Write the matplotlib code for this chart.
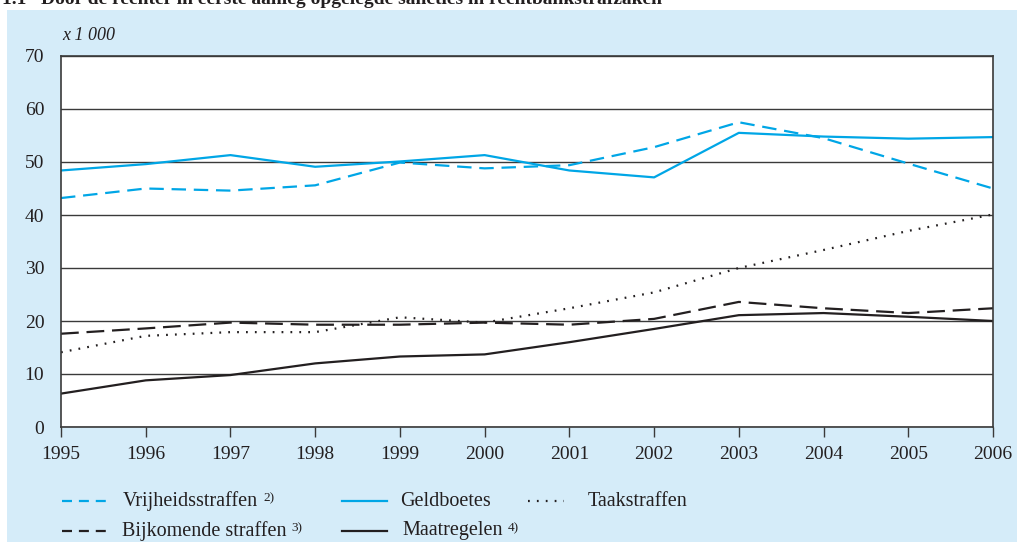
import matplotlib.pyplot as plt
from matplotlib.lines import Line2D
from matplotlib.patches import Rectangle

plt.rcParams['font.family'] = ['Liberation Serif', 'DejaVu Serif']

years = list(range(1995, 2007))
vrijheid = [43.2, 45.0, 44.6, 45.6, 49.9, 48.8, 49.4, 52.8, 57.5, 54.5, 49.7, 45.0]
geldboetes = [48.4, 49.6, 51.3, 49.1, 50.1, 51.3, 48.4, 47.1, 55.5, 54.8, 54.4, 54.7]
taak = [14.1, 17.2, 17.9, 17.9, 20.7, 19.7, 22.4, 25.4, 30.0, 33.4, 37.0, 40.1]
bijkomend = [17.6, 18.6, 19.7, 19.3, 19.3, 19.7, 19.3, 20.4, 23.6, 22.4, 21.5, 22.4]
maatregelen = [6.3, 8.8, 9.8, 12.0, 13.3, 13.7, 16.0, 18.5, 21.1, 21.5, 20.8, 20.0]

blue = '#00a6e6'
dark = '#231f20'
panel = '#d5ecf9'
W, H = 1017, 542

fig = plt.figure(figsize=(W / 100, H / 100), dpi=100)
fig.patch.set_facecolor('white')
fig.add_artist(Rectangle((7 / W, 0), 1, (H - 10) / H, transform=fig.transFigure,
                         facecolor=panel, edgecolor='none', zorder=0))

fig.text(2 / W, (H - 4) / H, '1.1   Door de rechter in eerste aanleg opgelegde sancties in rechtbankstrafzaken',
         fontsize=14, fontweight='bold', va='baseline', ha='left', color=dark)

ax = fig.add_axes([61 / W, 115 / H, 932 / W, 371 / H])
ax.set_facecolor('white')

ax.plot(years, vrijheid, color=blue, lw=1.6, dashes=(6.5, 3.5))
ax.plot(years, geldboetes, color=blue, lw=1.6)
ax.plot(years, taak, color=dark, lw=1.6, dashes=(0.8, 3.2))
ax.plot(years, bijkomend, color=dark, lw=1.6, dashes=(8, 3.5))
ax.plot(years, maatregelen, color=dark, lw=1.6)

ax.set_xlim(1995, 2006)
ax.set_ylim(0, 70)
ax.set_yticks(range(0, 71, 10))
ax.set_xticks(years)
ax.grid(axis='y', color='#3a3a3a', lw=1)
ax.set_axisbelow(True)
for s in ax.spines.values():
    s.set_color('#3a3a3a')
    s.set_linewidth(1.2)
ax.tick_params(axis='y', length=0, pad=12, labelsize=14, colors=dark)
ax.tick_params(axis='x', length=7, width=1, color='#3a3a3a', direction='out', pad=7,
               labelsize=14, labelcolor=dark)

fig.text(62 / W, (H - 35) / H, 'x 1 000', fontsize=13, fontstyle='italic', va='center', color=dark)

# legend drawn by hand
def entry(x0, x1, xt, y, label, sup, **kw):
    yy = (H - y) / H
    fig.add_artist(Line2D([x0 / W, x1 / W], [yy, yy], transform=fig.transFigure, lw=1.6, **kw))
    t = fig.text(xt / W, yy, label, fontsize=14.5, va='center', ha='left', color=dark)
    if sup:
        fig.canvas.draw()
        bb = t.get_window_extent()
        fig.text(bb.x1 / W + 5 / W, yy + 3 / H, sup, fontsize=9.5, va='center', ha='left', color=dark)

entry(62, 107, 123, 501, 'Vrijheidsstraffen', '2)', color=blue, dashes=(4.5, 3.1))
entry(342, 387, 400, 501, 'Geldboetes', None, color=blue)
entry(528, 564, 588, 501, 'Taakstraffen', None, color=dark, dashes=(0.8, 3.2))
entry(62, 107, 122, 531, 'Bijkomende straffen', '3)', color=dark, dashes=(4.5, 3.1))
entry(342, 387, 402, 531, 'Maatregelen', '4)', color=dark)

fig.savefig('out.png', dpi=100, facecolor=fig.get_facecolor())
